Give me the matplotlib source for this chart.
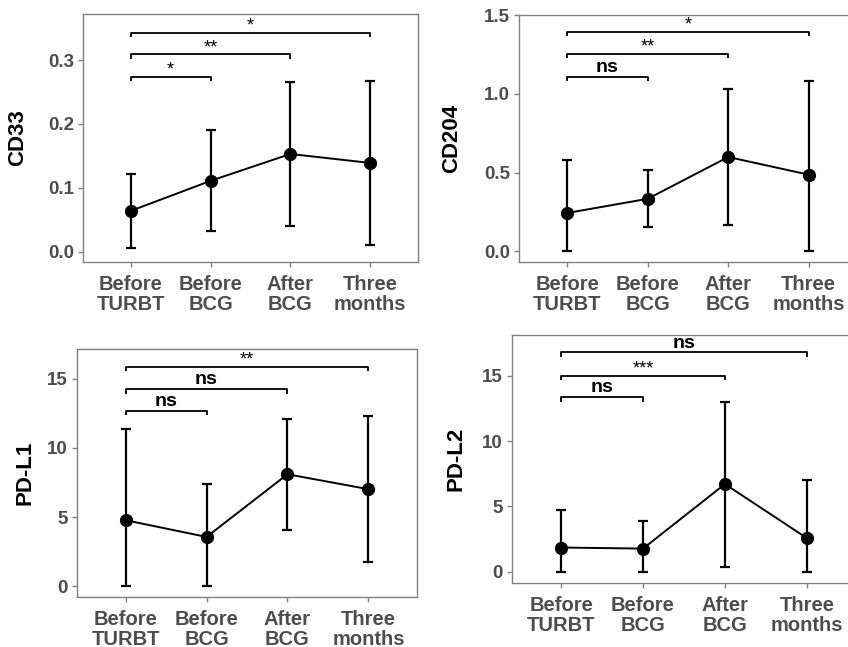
import matplotlib
matplotlib.use("Agg")
import matplotlib.pyplot as plt
import numpy as np

plt.rcParams['font.family'] = ['Liberation Sans', 'DejaVu Sans']

categories = ["Before\nTURBT", "Before\nBCG", "After\nBCG", "Three\nmonths"]

cd33_mean = [0.064, 0.111, 0.153, 0.139]
cd33_low = [0.006, 0.033, 0.041, 0.011]
cd33_high = [0.122, 0.191, 0.266, 0.267]
cd33_brackets = [(1, 2, 0.274, "*"), (1, 3, 0.309, "**"), (1, 4, 0.343, "*")]

cd204_mean = [0.244, 0.334, 0.599, 0.487]
cd204_low = [0.0, 0.157, 0.168, 0.0]
cd204_high = [0.58, 0.516, 1.028, 1.081]
cd204_brackets = [(1, 2, 1.108, "ns"), (1, 3, 1.253, "**"), (1, 4, 1.392, "*")]

pdl1_mean = [4.78, 3.57, 8.10, 7.02]
pdl1_low = [0.0, 0.0, 4.10, 1.74]
pdl1_high = [11.36, 7.36, 12.08, 12.32]
pdl1_brackets = [(1, 2, 12.68, "ns"), (1, 3, 14.25, "ns"), (1, 4, 15.87, "**")]

pdl2_mean = [1.86, 1.78, 6.71, 2.58]
pdl2_low = [0.0, 0.0, 0.41, 0.0]
pdl2_high = [4.72, 3.90, 13.01, 7.02]
pdl2_brackets = [(1, 2, 13.35, "ns"), (1, 3, 15.0, "***"), (1, 4, 16.77, "ns")]

W, H = 848, 647
fig = plt.figure(figsize=(W / 100, H / 100), dpi=100)

panels = [
    dict(name="CD33", mean=cd33_mean, low=cd33_low, high=cd33_high, br=cd33_brackets,
         box=(83, 418, 14, 262), ylim=(-0.016, 0.372), yticks=[0.0, 0.1, 0.2, 0.3],
         fmt="{:.1f}", labx=18),
    dict(name="CD204", mean=cd204_mean, low=cd204_low, high=cd204_high, br=cd204_brackets,
         box=(519, 857, 15, 262), ylim=(-0.067, 1.5), yticks=[0.0, 0.5, 1.0, 1.5],
         fmt="{:.1f}", labx=452),
    dict(name="PD-L1", mean=pdl1_mean, low=pdl1_low, high=pdl1_high, br=pdl1_brackets,
         box=(77, 417, 349, 597), ylim=(-0.77, 17.15), yticks=[0, 5, 10, 15],
         fmt="{:d}", labx=25),
    dict(name="PD-L2", mean=pdl2_mean, low=pdl2_low, high=pdl2_high, br=pdl2_brackets,
         box=(512, 856, 335, 583), ylim=(-0.85, 18.1), yticks=[0, 5, 10, 15],
         fmt="{:d}", labx=456),
]

grey_txt = "#4D4D4D"
grey_line = "#808080"

for p in panels:
    l, r, t, b = p["box"]
    ax = fig.add_axes([l / W, 1 - b / H, (r - l) / W, (b - t) / H])
    x = np.arange(1, len(categories) + 1)
    mean = np.array(p["mean"])
    low = np.array(p["low"])
    high = np.array(p["high"])
    ax.errorbar(x, mean, yerr=[mean - low, high - mean], fmt="none", ecolor="black",
                elinewidth=1.6, capsize=3.4, capthick=1.6, zorder=2)
    ax.plot(x, mean, color="black", lw=1.4, zorder=3)
    ax.plot(x, mean, "o", color="black", ms=8.5, zorder=4)

    ylo, yhi = p["ylim"]
    tip = (yhi - ylo) * 0.018
    for (a, c, yb, lab) in p["br"]:
        ax.plot([a, a, c, c], [yb - tip, yb, yb, yb - tip], color="black", lw=1.3,
                solid_capstyle="butt", zorder=3)
        if lab == "ns":
            ax.annotate(lab, xy=((a + c) / 2, yb), xytext=(0, 3.5), textcoords="offset points",
                        ha="center", va="baseline", fontsize=14, fontweight="bold", color="black")
        else:
            ax.annotate(lab, xy=((a + c) / 2, yb), xytext=(0, 1.5), textcoords="offset points",
                        ha="center", va="baseline", fontsize=13, color="black")

    ax.set_xlim(0.4, 4.6)
    ax.set_ylim(ylo, yhi)
    ax.set_xticks(x)
    ax.set_xticklabels(categories, fontsize=14.5, fontweight="bold", color=grey_txt,
                       linespacing=1.05)
    ax.set_yticks(p["yticks"])
    ax.set_yticklabels([p["fmt"].format(v) for v in p["yticks"]], fontsize=13.5,
                       fontweight="bold", color=grey_txt)
    ax.tick_params(axis="both", length=3.5, width=1.0, color=grey_line)
    ax.tick_params(axis="x", pad=6)
    ax.tick_params(axis="y", pad=3)
    for s in ax.spines.values():
        s.set_color(grey_line)
        s.set_linewidth(1.0)
    ax.set_ylabel(p["name"], fontsize=16, fontweight="bold", color="black", va="center")
    ax.yaxis.set_label_coords((p["labx"] - l) / (r - l), 0.5)

fig.savefig("out.png", dpi=100)
